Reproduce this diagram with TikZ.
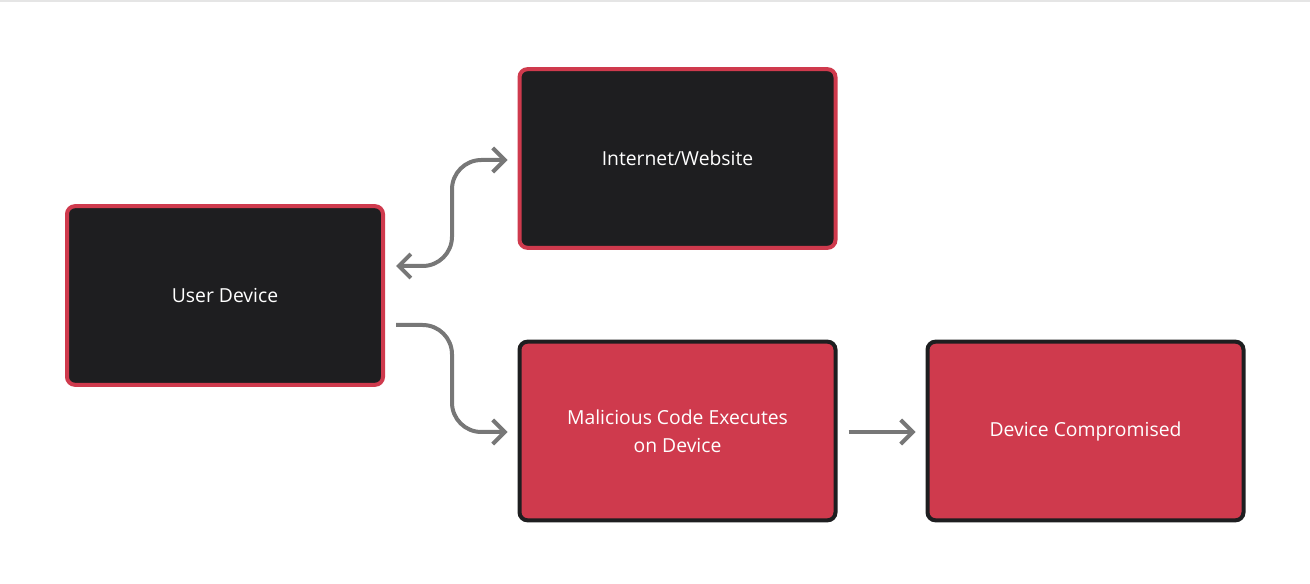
\documentclass[tikz,border=0pt]{standalone}
\usepackage{fontspec}
\setmainfont{Open Sans}
\usetikzlibrary{arrows.meta,calc}
\definecolor{bred}{HTML}{CF3A4D}
\definecolor{bdark}{HTML}{1E1E20}
\definecolor{agray}{HTML}{777777}
\begin{document}
\begin{tikzpicture}[x=0.75pt,y=-0.75pt,
  darkbox/.style={draw=bred,fill=bdark,line width=3pt,rounded corners=6pt,minimum width=237pt,minimum height=134pt,text=white,font=\fontsize{14.5}{21}\selectfont,align=center,inner sep=0pt},
  redbox/.style={darkbox,draw=bdark,fill=bred},
  conn/.style={draw=agray,line width=3pt,rounded corners=22pt,-{Straight Barb[length=9pt,width=18pt,line width=3pt]}}]
\useasboundingbox (0,0) rectangle (1310,584);
\draw[black!10,line width=0.8pt] (0,1) -- (1310,1);
\node[darkbox] (ud) at (225,295.5) {User Device};
\node[darkbox] (iw) at (677.5,158.5) {Internet/Website};
\node[redbox] (mc) at (677.5,431) {Malicious Code Executes\\on Device};
\node[redbox] (dc) at (1085.5,431) {Device Compromised};
\coordinate (a1) at ($(ud.east)+(11,-29.5)$);
\coordinate (a2) at ($(iw.west)+(-10,1.5)$);
\draw[conn,{Straight Barb[length=9pt,width=18pt,line width=3pt]}-{Straight Barb[length=9pt,width=18pt,line width=3pt]}] (a1) -- (a1 -| 452,0) -- (a2 -| 452,0) -- (a2);
\coordinate (b1) at ($(ud.east)+(11,29.5)$);
\coordinate (b2) at ($(mc.west)+(-10,1)$);
\draw[conn] (b1) -- (b1 -| 452,0) -- (b2 -| 452,0) -- (b2);
\draw[conn] ($(mc.east)+(11,1)$) -- ($(dc.west)+(-10,1)$);
\end{tikzpicture}
\end{document}
